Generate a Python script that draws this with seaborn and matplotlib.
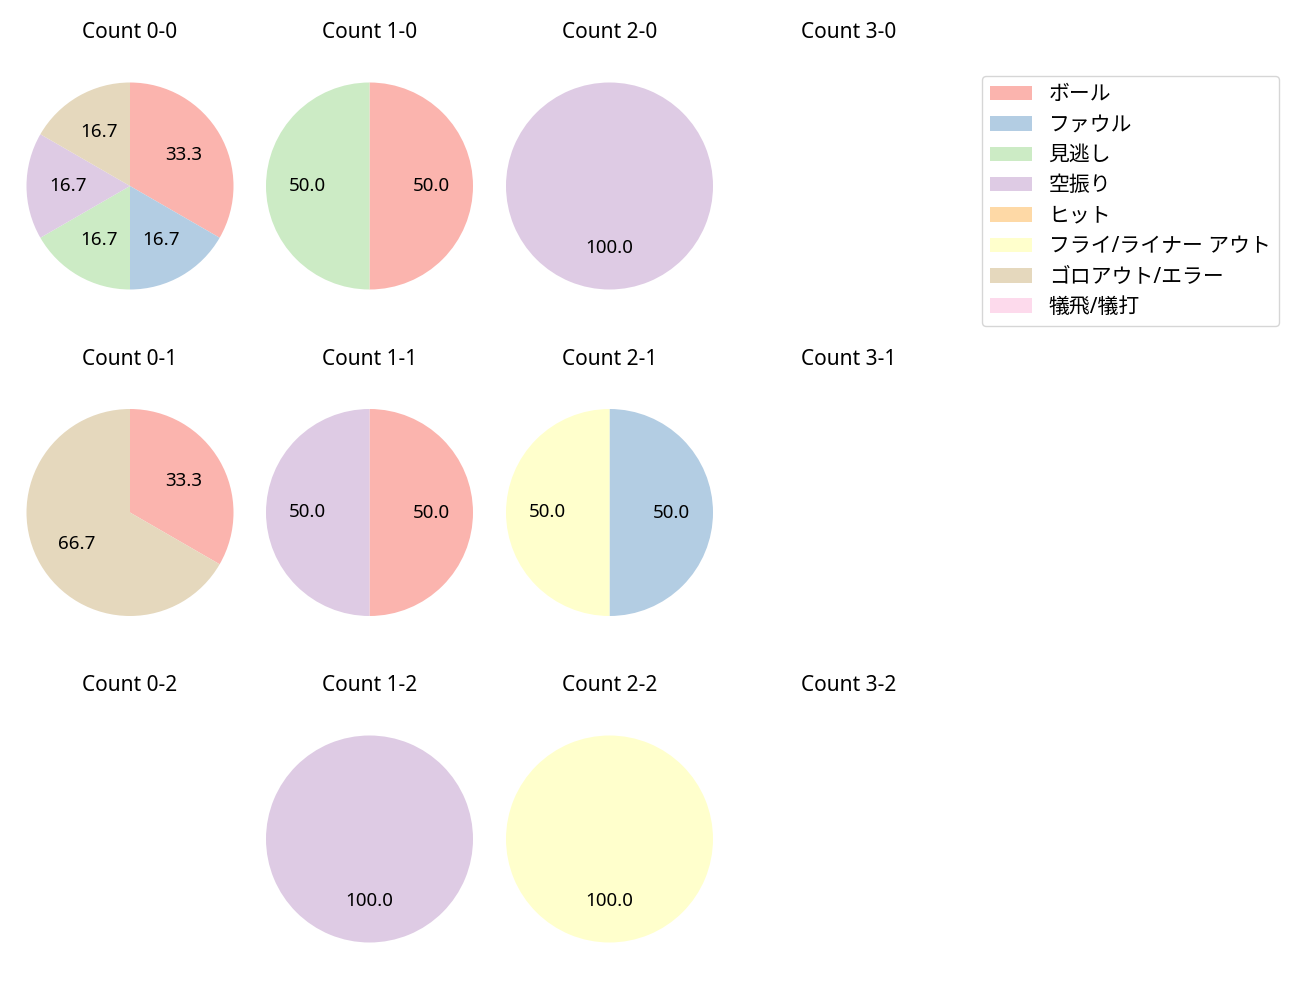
import matplotlib
matplotlib.use("Agg")
import matplotlib.pyplot as plt
import matplotlib.patches as mpatches
import seaborn as sns

sns.set_style("white")
plt.rcParams['font.family'] = ['Noto Sans', 'Noto Sans CJK JP', 'DejaVu Sans']
plt.rcParams['text.color'] = 'black'

categories = ["ボール", "ファウル", "見逃し", "空振り", "ヒット", "フライ/ライナー アウト", "ゴロアウト/エラー", "犠飛/犠打"]
colors = sns.color_palette("Pastel1", 8)

balls = [0, 1, 2, 3]
strikes = [0, 1, 2]

# counts per category for each ball-strike count
count_0_0 = [2, 1, 1, 1, 0, 0, 1, 0]
count_1_0 = [1, 0, 1, 0, 0, 0, 0, 0]
count_2_0 = [0, 0, 0, 1, 0, 0, 0, 0]
count_3_0 = [0, 0, 0, 0, 0, 0, 0, 0]
count_0_1 = [1, 0, 0, 0, 0, 0, 2, 0]
count_1_1 = [1, 0, 0, 1, 0, 0, 0, 0]
count_2_1 = [0, 1, 0, 0, 0, 1, 0, 0]
count_3_1 = [0, 0, 0, 0, 0, 0, 0, 0]
count_0_2 = [0, 0, 0, 0, 0, 0, 0, 0]
count_1_2 = [0, 0, 0, 1, 0, 0, 0, 0]
count_2_2 = [0, 0, 0, 0, 0, 1, 0, 0]
count_3_2 = [0, 0, 0, 0, 0, 0, 0, 0]

data = {
    (0, 0): count_0_0, (1, 0): count_1_0, (2, 0): count_2_0, (3, 0): count_3_0,
    (0, 1): count_0_1, (1, 1): count_1_1, (2, 1): count_2_1, (3, 1): count_3_1,
    (0, 2): count_0_2, (1, 2): count_1_2, (2, 2): count_2_2, (3, 2): count_3_2,
}

W, H = 1300, 1000
fig = plt.figure(figsize=(13, 10), dpi=100)
cxs = [130, 369.5, 609.5, 849]
cys = [186, 512.5, 839]
S = 240
L = S / 2 / 103.5

for s in strikes:
    for b in balls:
        cx, cy = cxs[b], cys[s]
        ax = fig.add_axes([(cx - S / 2) / W, 1 - (cy + S / 2) / H, S / W, S / H])
        vals = data[(b, s)]
        nz = [(v, c) for v, c in zip(vals, colors) if v > 0]
        if nz:
            ax.pie([v for v, _ in nz], colors=[c for _, c in nz], autopct="%.1f",
                   startangle=90, counterclock=False,
                   wedgeprops={"linewidth": 0},
                   textprops={"fontsize": 13.5, "color": "black"})
        ax.set_xlim(-L, L)
        ax.set_ylim(-L, L)
        ax.set_aspect("auto")
        ax.axis("off")
        ax.set_title(f"Count {b}-{s}", fontsize=15, pad=20, color="black")

handles = [mpatches.Patch(color=c, label=l, linewidth=0) for c, l in zip(colors, categories)]
fig.legend(handles=handles, loc="upper left", bbox_to_anchor=(982 / W, 1 - 76 / H),
           fontsize=15, frameon=True, borderaxespad=0, labelspacing=0.45)

fig.savefig("out.png", dpi=100)
